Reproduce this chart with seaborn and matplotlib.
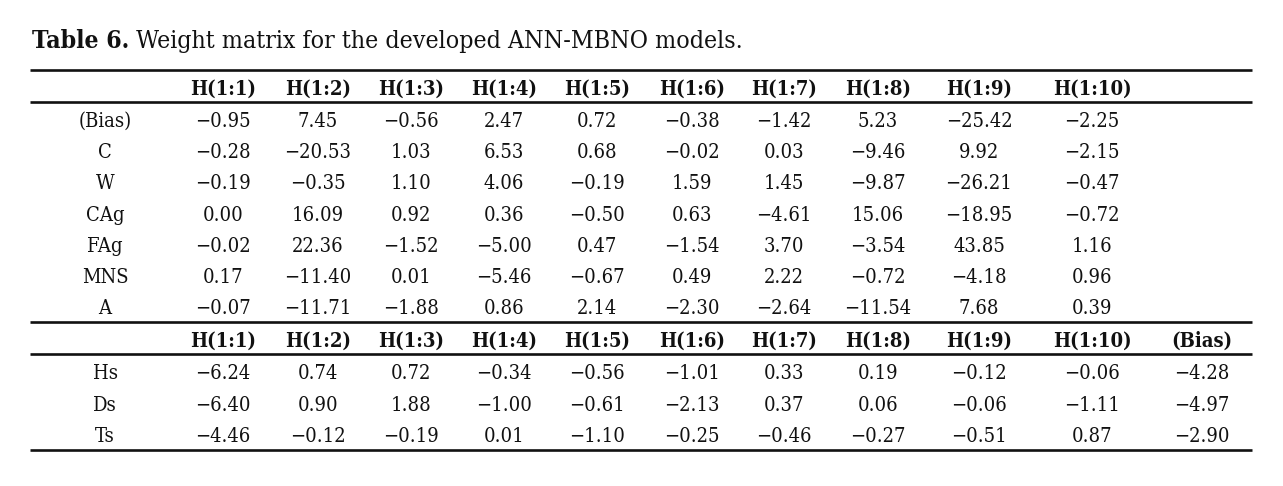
import matplotlib
matplotlib.use('Agg')
import numpy as np
import pandas as pd
import matplotlib.pyplot as plt
import seaborn as sns

hidden = ['H(1:1)', 'H(1:2)', 'H(1:3)', 'H(1:4)', 'H(1:5)',
          'H(1:6)', 'H(1:7)', 'H(1:8)', 'H(1:9)', 'H(1:10)']

# input -> hidden weights
w_bias = [-0.95, 7.45, -0.56, 2.47, 0.72, -0.38, -1.42, 5.23, -25.42, -2.25]
w_c = [-0.28, -20.53, 1.03, 6.53, 0.68, -0.02, 0.03, -9.46, 9.92, -2.15]
w_w = [-0.19, -0.35, 1.10, 4.06, -0.19, 1.59, 1.45, -9.87, -26.21, -0.47]
w_cag = [0.00, 16.09, 0.92, 0.36, -0.50, 0.63, -4.61, 15.06, -18.95, -0.72]
w_fag = [-0.02, 22.36, -1.52, -5.00, 0.47, -1.54, 3.70, -3.54, 43.85, 1.16]
w_mns = [0.17, -11.40, 0.01, -5.46, -0.67, 0.49, 2.22, -0.72, -4.18, 0.96]
w_a = [-0.07, -11.71, -1.88, 0.86, 2.14, -2.30, -2.64, -11.54, 7.68, 0.39]
input_rows = ['(Bias)', 'C', 'W', 'CAg', 'FAg', 'MNS', 'A']

# hidden -> output weights (last value is the output bias)
w_hs = [-6.24, 0.74, 0.72, -0.34, -0.56, -1.01, 0.33, 0.19, -0.12, -0.06, -4.28]
w_ds = [-6.40, 0.90, 1.88, -1.00, -0.61, -2.13, 0.37, 0.06, -0.06, -1.11, -4.97]
w_ts = [-4.46, -0.12, -0.19, 0.01, -1.10, -0.25, -0.46, -0.27, -0.51, 0.87, -2.90]
output_rows = ['Hs', 'Ds', 'Ts']

df_in = pd.DataFrame([w_bias, w_c, w_w, w_cag, w_fag, w_mns, w_a],
                     index=input_rows, columns=hidden)
df_out = pd.DataFrame([w_hs, w_ds, w_ts], index=output_rows,
                      columns=hidden + ['(Bias)'])

# layout (pixels)
col_x = [223, 318, 411, 504, 597, 692, 784, 878, 979, 1092, 1202]
label_x = 105
rules = [70, 102, 322, 354, 450]
head1_y = 95
body1_y = 127
head2_y = 347
body2_y = 379
pitch1 = 31.17
pitch2 = 31.5
fs = 14.5

sns.set_theme(style='white')
plt.rcParams['font.family'] = ['DejaVu Serif']
ink = '#111111'


def fmt(v):
    return f'{v:.2f}'.replace('-', '\u2212')


fig = plt.figure(figsize=(12.83, 4.86), dpi=100)
ax = fig.add_axes([0, 0, 1, 1])
ax.set_xlim(0, 1283)
ax.set_ylim(486, 0)
ax.axis('off')

t1 = ax.text(32, 48, 'Table 6.', fontsize=17.8, fontweight='bold',
             va='baseline', ha='left', color=ink, fontstretch='condensed')
ax.annotate(' Weight matrix for the developed ANN-MBNO models.', xy=(1, 0),
            xycoords=t1, va='bottom', ha='left', fontsize=17.8, color=ink,
            fontstretch='condensed')

ax.hlines(rules, 30, 1252, color=ink, lw=1.9)

txt = dict(ha='center', va='baseline', fontsize=fs, color=ink,
           fontstretch='condensed')

for j, name in enumerate(df_in.columns):
    ax.text(col_x[j], head1_y, name, fontweight='bold', **txt)
for i, (row, vals) in enumerate(df_in.iterrows()):
    y = body1_y + i * pitch1
    ax.text(label_x, y, row, **txt)
    for j, v in enumerate(vals):
        ax.text(col_x[j], y, fmt(v), **txt)

for j, name in enumerate(df_out.columns):
    ax.text(col_x[j], head2_y, name, fontweight='bold', **txt)
for i, (row, vals) in enumerate(df_out.iterrows()):
    y = body2_y + i * pitch2
    ax.text(label_x, y, row, **txt)
    for j, v in enumerate(vals):
        ax.text(col_x[j], y, fmt(v), **txt)

fig.savefig('out.png', dpi=100)
